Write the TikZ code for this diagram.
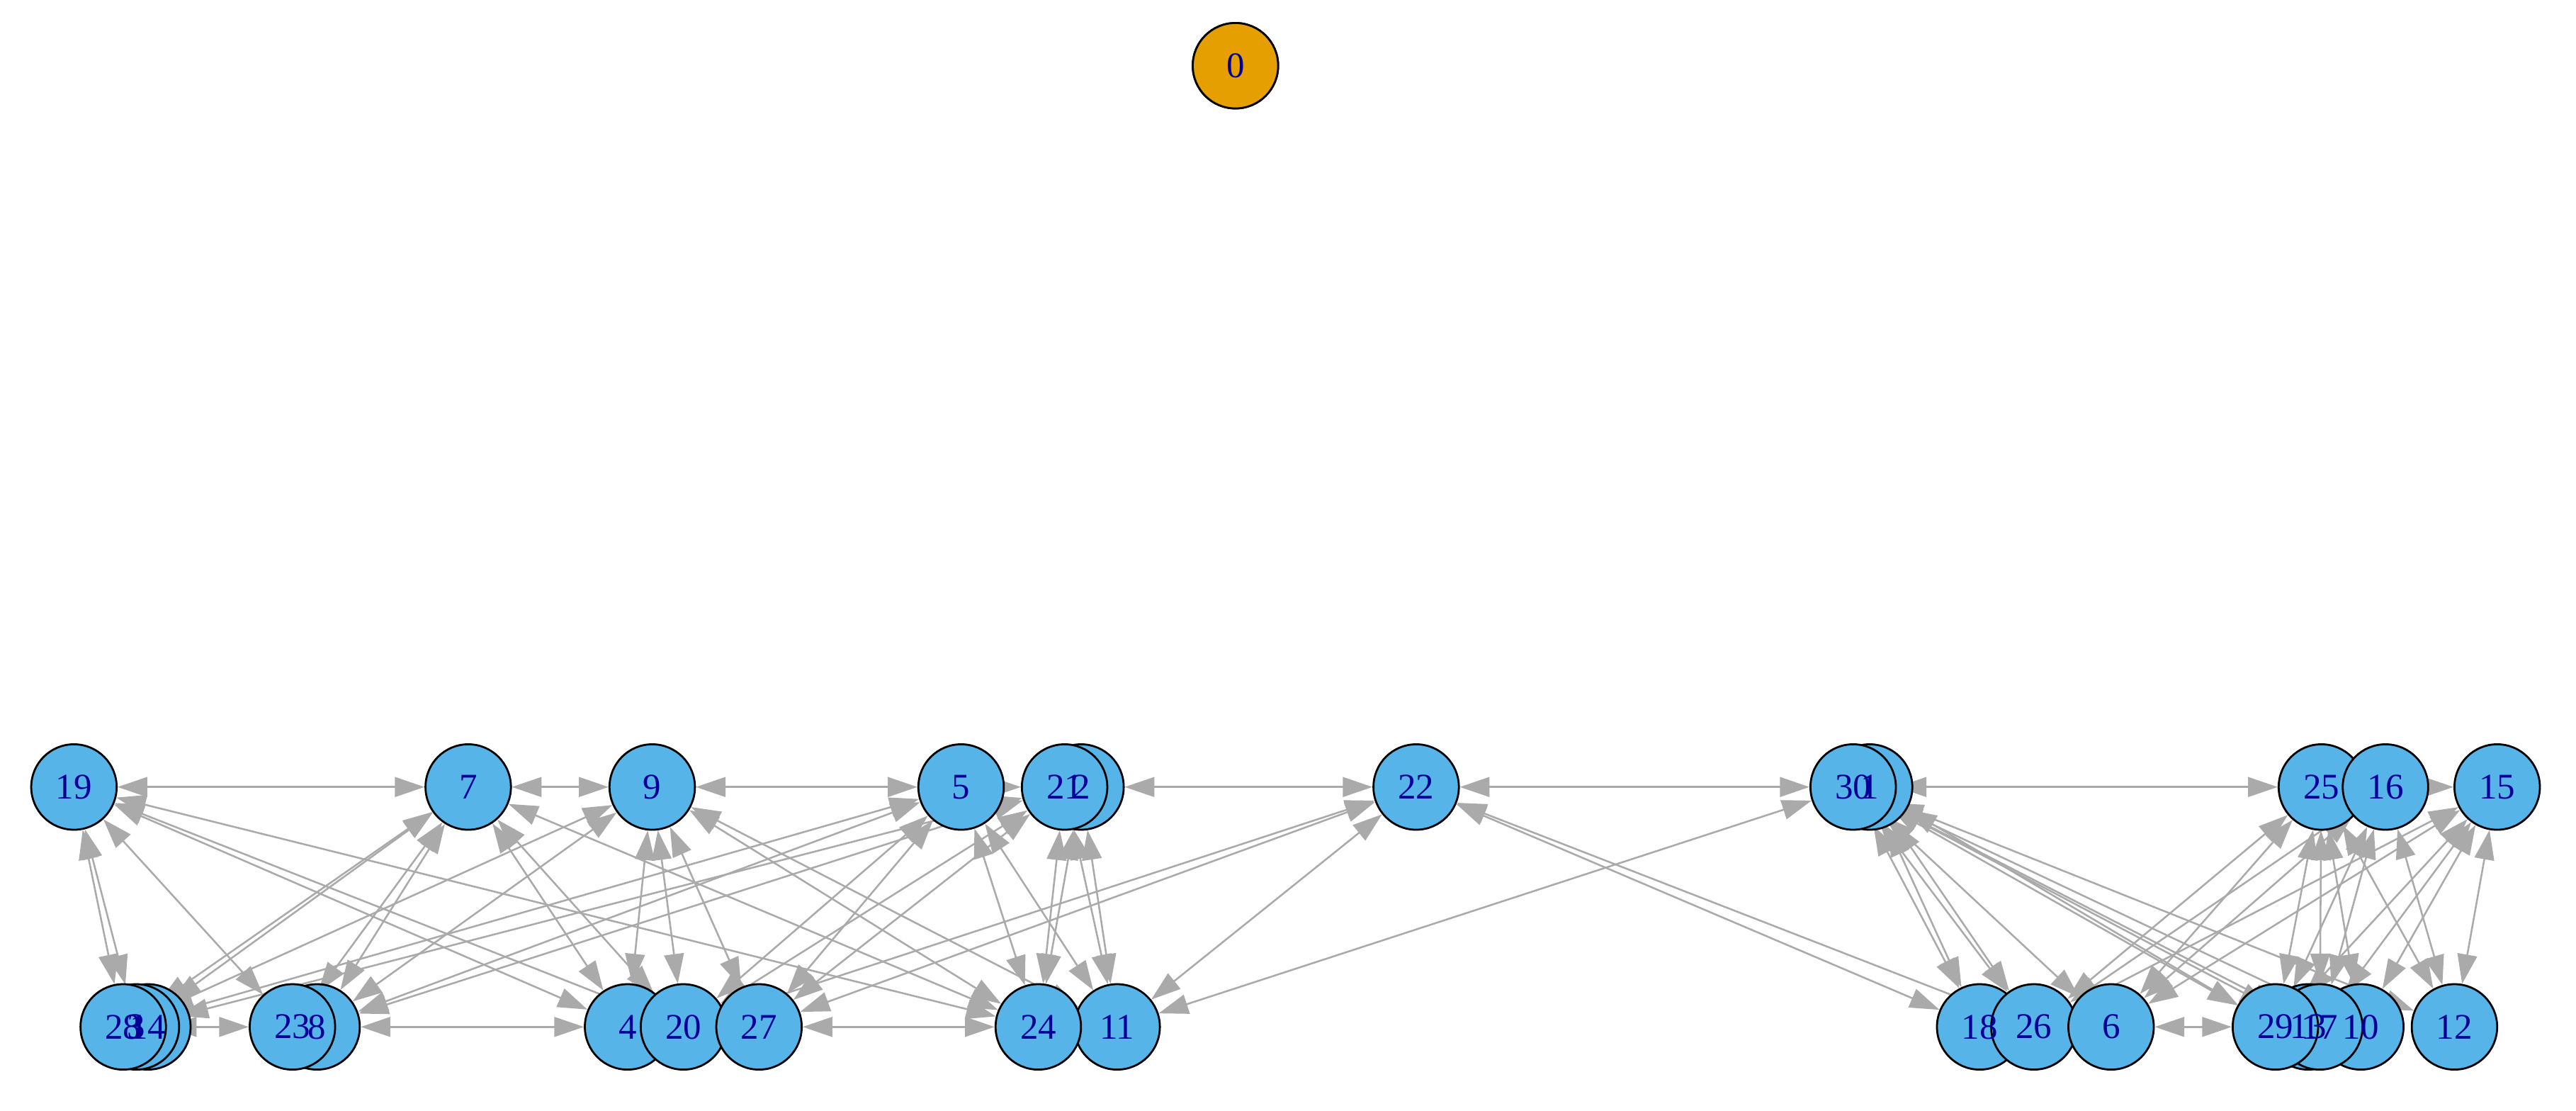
\documentclass[tikz,border=0pt]{standalone}
\usepackage{fontspec}
\setmainfont{Liberation Serif}
\usetikzlibrary{arrows.meta,backgrounds}
\definecolor{nodeblue}{RGB}{86,180,233}
\definecolor{nodeorange}{RGB}{230,159,0}
\definecolor{labelblue}{RGB}{0,0,153}
\definecolor{edgegray}{RGB}{170,170,170}
\begin{document}
\begin{tikzpicture}[x=1pt,y=-1pt,
  vtx/.style={circle,draw=black,line width=1.2pt,fill=nodeblue,minimum size=52pt,inner sep=0pt},
  lbl/.style={text=labelblue,inner sep=0pt,font=\fontsize{22}{22}\selectfont},
  edg/.style={draw=edgegray,line width=1.1pt,{Triangle[length=18pt,width=12pt]}-{Triangle[length=18pt,width=12pt]}}]
\useasboundingbox (0,0) rectangle (1568,676);
\foreach \n/\x/\y in {0/752/40,
  19/45/479,7/285/479,9/397/479,5/585/479,2/658/479,21/648/479,22/862/479,
  1/1138/479,30/1128/479,25/1413/479,16/1452/479,15/1520/479,
  14/90/625,3/83/625,28/75/625,8/193/625,23/178/625,4/382/625,20/416/625,
  27/462/625,11/680/625,24/632/625,18/1205/625,26/1238/625,6/1285/625,
  10/1437/625,13/1405/625,17/1412/625,29/1385/625,12/1494/625}
  \node[vtx] (n\n) at (\x,\y) {};
\fill[nodeorange,draw=black,line width=1.2pt] (n0) circle (26pt);
\foreach \n in {0,19,7,9,5,2,21,22,1,30,25,16,15,14,3,28,8,23,4,20,27,11,24,18,26,6,10,13,17,29,12}
  \node[lbl] (l\n) at (n\n) {\n};
\begin{scope}[on background layer]
\foreach \a/\b in {19/7,19/28,19/3,19/23,19/4,19/24,19/20,
  7/9,7/28,7/3,7/23,7/8,7/4,7/20,7/24,
  9/5,9/28,9/8,9/4,9/20,9/27,9/11,9/24,
  5/21,5/28,5/8,5/20,5/27,5/24,5/11,
  21/3,21/8,21/20,21/27,21/24,21/11,2/24,2/11,
  2/22,22/27,22/20,22/11,22/18,22/26,22/30,
  28/23,8/4,27/24,30/11,
  30/25,30/18,30/26,30/6,30/29,30/13,30/17,30/10,30/12,1/18,1/26,1/29,
  25/16,16/15,25/26,25/6,25/29,25/17,25/10,25/12,
  16/26,16/6,16/29,16/17,16/12,
  15/6,15/26,15/29,15/17,15/10,15/12,
  6/29,26/6}
  \draw[edg] (n\a) -- (n\b);
\end{scope}
\end{tikzpicture}
\end{document}
